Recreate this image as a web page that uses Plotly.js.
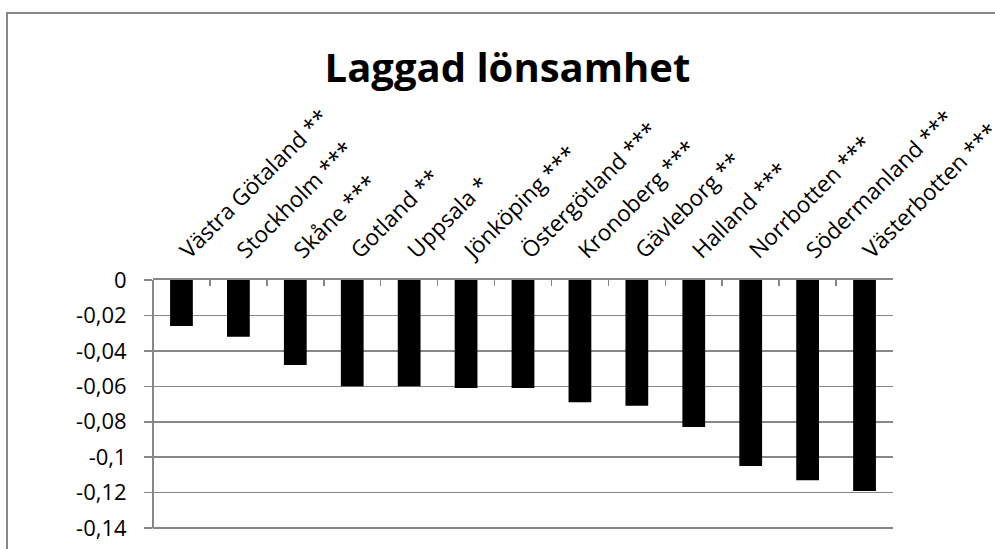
<!DOCTYPE html>
<html>
<head>
<meta charset="utf-8">
<script src="https://cdn.plot.ly/plotly-3.0.1.min.js"></script>
<style>
  html, body { margin: 0; padding: 0; background: #fff; overflow: hidden; }
  #wrap { position: relative; width: 995px; height: 549px; }
  #chart { position: absolute; left: 0; top: 0; width: 995px; height: 549px; }
  #frame { position: absolute; left: 6px; top: 12px; width: 1100px; height: 700px;
           border: 2px solid #878787; pointer-events: none; }
</style>
</head>
<body>
<div id="wrap">
  <div id="chart"></div>
  <div id="frame"></div>
</div>
<script>
const regions = ["Västra Götaland **", "Stockholm ***", "Skåne ***", "Gotland **", "Uppsala *",
  "Jönköping ***", "Östergötland ***", "Kronoberg ***", "Gävleborg **", "Halland ***",
  "Norrbotten ***", "Södermanland ***", "Västerbotten ***"];
const values = [-0.026, -0.032, -0.048, -0.060, -0.060, -0.061, -0.061, -0.069, -0.071, -0.083,
  -0.105, -0.113, -0.119];
const yTickVals = [0, -0.02, -0.04, -0.06, -0.08, -0.1, -0.12, -0.14];
const yTickText = ["0", "-0,02", "-0,04", "-0,06", "-0,08", "-0,1", "-0,12", "-0,14"];

const gray = "#878787";
const font = "Open Sans, Lato, DejaVu Sans, sans-serif";
const yMin = yTickVals[yTickVals.length - 1];

const trace = {
  type: "bar",
  x: regions,
  y: values,
  marker: { color: "#000000", line: { width: 0 } },
  hoverinfo: "skip"
};

const layout = {
  width: 995,
  height: 549,
  margin: { l: 153, r: 102, t: 280, b: 12, pad: 0 },
  paper_bgcolor: "#ffffff",
  plot_bgcolor: "#ffffff",
  showlegend: false,
  bargap: 0.6,
  title: {
    text: "Laggad lönsamhet",
    font: { family: font, size: 40, color: "#000000", weight: 700 },
    x: 0.51, xanchor: "center", xref: "container",
    y: 0.877, yanchor: "middle", yref: "container"
  },
  xaxis: {
    type: "category",
    side: "top",
    tickangle: -45,
    showline: true,
    linecolor: gray,
    linewidth: 2,
    ticks: "inside",
    tickson: "boundaries",
    ticklen: 6,
    tickwidth: 1.5,
    tickcolor: gray,
    showgrid: false,
    zeroline: false,
    tickfont: { family: font, size: 22.5, color: "#000000" },
    ticklabelstandoff: 6,
    automargin: false,
    fixedrange: true
  },
  yaxis: {
    range: [-0.145, 0],
    tickvals: yTickVals,
    ticktext: yTickText,
    showline: false,
    ticks: "outside",
    ticklen: 8,
    tickwidth: 1.5,
    tickcolor: gray,
    showgrid: true,
    gridcolor: gray,
    gridwidth: 1.5,
    zeroline: false,
    tickfont: { family: font, size: 22, color: "#000000" },
    ticklabelstandoff: 13,
    automargin: false,
    fixedrange: true
  },
  shapes: [
    { type: "line", xref: "paper", yref: "y", x0: 0, x1: 0, y0: 0, y1: yMin,
      line: { color: gray, width: 2 }, layer: "above" }
  ]
};

Plotly.newPlot("chart", [trace], layout, { staticPlot: true, displayModeBar: false });
</script>
</body>
</html>
